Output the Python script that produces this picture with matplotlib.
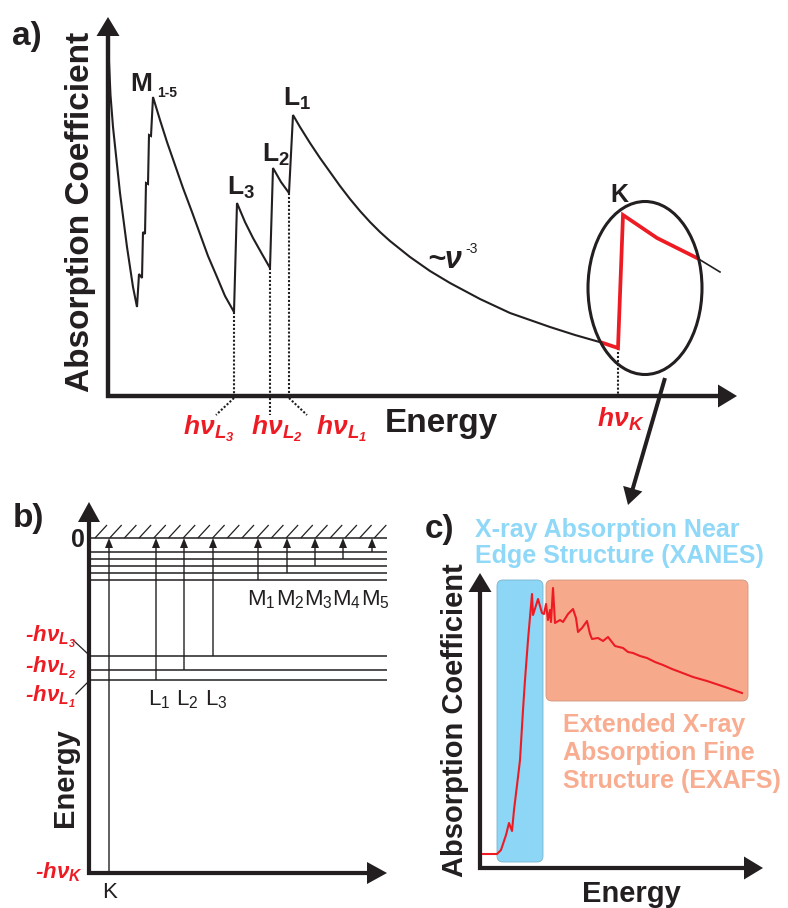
import numpy as np
import matplotlib
matplotlib.use('Agg')
import matplotlib.pyplot as plt
from matplotlib.patches import Ellipse, FancyArrow, FancyBboxPatch
from matplotlib.collections import LineCollection

plt.rcParams['font.family'] = ['Liberation Sans', 'DejaVu Sans']
plt.rcParams['mathtext.fontset'] = 'custom'
plt.rcParams['mathtext.rm'] = 'Liberation Sans'
plt.rcParams['mathtext.it'] = 'Liberation Sans:italic'
plt.rcParams['mathtext.bf'] = 'Liberation Sans:bold'
plt.rcParams['mathtext.default'] = 'regular'

W, H = 788, 908
BLACK = '#231f20'
RED = '#ed1c24'
XANES_C = '#8dd6f6'
EXAFS_C = '#f7a98c'

# ---- a) absorption coefficient vs photon energy (arbitrary units) ----
mu_e = [1, 2.5, 5, 12, 19, 25, 29,
        31, 34, 35, 37, 38, 40, 41, 43, 45,
        52, 59, 67, 75, 84, 92, 100, 109, 117, 126,
        129, 137, 145, 154, 162,
        165, 173, 181,
        185, 192, 202, 212, 222, 232, 242, 252, 262, 272, 282, 292, 302, 312, 322, 332,
        342, 357, 372, 387, 402, 422, 442, 467, 495]
mu_y = [334, 301, 269, 203, 149, 109, 89,
        122, 118, 164, 162, 213, 212, 261, 260, 299,
        276, 254, 231, 208, 184, 162, 140, 119, 100, 84,
        193, 174, 158, 142, 128,
        228, 214, 203,
        281, 269, 253, 238, 224, 210, 197, 185, 174, 164, 155, 147, 139, 132, 125, 119,
        113, 105, 97, 90, 83, 76, 69, 61, 53]
# K edge region (highlighted) and the curve beyond it
k_e = [495, 510, 515, 549, 589]
k_y = [53, 48, 181, 158, 138]
tail_e = [589, 612]
tail_y = [138, 124]
# edge onsets marked on the energy axis
edge_names = ['L_3', 'L_2', 'L_1', 'K']
edge_e = [126, 162, 181, 510]
edge_y = [84, 128, 203, 48]

# ---- b) energy level scheme ----
m_levels = [-42, -35, -28, -21, -14]   # M1..M5
l_levels = [-142, -132, -118]          # L1..L3
k_level = -335
m_slots = [169, 198, 226, 254, 283]
l_slots = [67, 95, 124]
k_slot = 20

# ---- c) measured K-edge spectrum ----
spec_e = [3, 17, 21, 26, 29, 32, 34, 38, 40, 43, 45, 48, 52, 53, 58, 62, 64, 66,
          68, 70, 71, 73, 75, 80, 83, 88, 93, 96, 98, 102, 107, 110, 112, 118,
          123, 128, 135, 143, 148, 153, 160, 167, 175, 183, 192, 200, 213, 227,
          245, 262]
spec_y = [14, 14, 18, 33, 45, 37, 58, 91, 108, 158, 188, 228, 274, 253, 269, 255, 254, 264,
          248, 258, 246, 280, 245, 248, 246, 254, 259, 250, 236, 240, 247, 234, 229, 230,
          227, 231, 222, 220, 216, 215, 212, 210, 206, 203, 199, 196, 191, 187,
          181, 175]
xanes_range = (17, 63)
exafs_range = (66, 268)


fig = plt.figure(figsize=(W / 100, H / 100), dpi=100)
fig.patch.set_facecolor('white')


def panel(ox, oy, w, h, ylo=0):
    # axes whose origin sits at pixel (ox, oy); one data unit per pixel
    ax = fig.add_axes([ox / W, (H - oy) / H, w / W, h / H])
    ax.set_xlim(0, w)
    ax.set_ylim(ylo, ylo + h)
    ax.axis('off')
    return ax


def axis_arrows(ax, xmax, ymin, ymax, lw=4.2, hw=22, hl=20):
    ax.add_patch(FancyArrow(-2, ymin, xmax + 2, 0, width=lw, head_width=hw, head_length=hl,
                            length_includes_head=True, color=BLACK, lw=0, clip_on=False))
    ax.add_patch(FancyArrow(0, ymin - 2, 0, ymax - ymin + 2, width=lw, head_width=hw, head_length=hl,
                            length_includes_head=True, color=BLACK, lw=0, clip_on=False))


bold = dict(fontweight='bold', color=BLACK)
red_lab = dict(fontweight='bold', fontstyle='italic', color=RED)

# ================= a =================
ax_a = panel(108, 396, 629, 379)
axis_arrows(ax_a, 629, 0, 379, lw=4.4, hw=23, hl=19)
ax_a.plot(mu_e, mu_y, color=BLACK, lw=1.5, clip_on=False, solid_joinstyle='miter')
ax_a.plot(tail_e, tail_y, color=BLACK, lw=1.2, clip_on=False)
ax_a.plot(k_e, k_y, color=RED, lw=2.7, clip_on=False, zorder=4, solid_joinstyle='miter')

for e, y in zip(edge_e, edge_y):
    ax_a.plot([e, e], [y, 0], color=BLACK, lw=1.5, ls=(0, (1, 0.9)), clip_on=False)
for e, dx in zip(edge_e[:3], [-18, 0, 18]):
    ax_a.plot([e, e + dx], [-2, -19], color=BLACK, lw=1.5, ls=(0, (1, 0.9)), clip_on=False)

ax_a.add_patch(Ellipse((537, 108), 114, 173, fill=False, ec=BLACK, lw=2.2, clip_on=False, zorder=5))
ax_a.add_patch(FancyArrow(557, 18, -37, -127, width=4, head_width=20, head_length=17,
                          length_includes_head=True, color=BLACK, lw=0, clip_on=False))

ax_a.text(-96, 351, 'a)', fontsize=24, ha='left', va='baseline', **bold)
ax_a.text(-19, 184, 'Absorption Coefficient', fontsize=24, rotation=90, rotation_mode='anchor',
          ha='center', va='baseline', **bold)
ax_a.text(333, -36, 'Energy', fontsize=24, ha='center', va='baseline', **bold)

ax_a.text(22, 305, 'M', fontsize=19, ha='left', va='baseline', **bold)
ax_a.text(49, 299, '1-5', fontsize=10, ha='left', va='baseline', **bold)
ax_a.text(119, 201, r'L$_3$', fontsize=19, ha='left', va='baseline', **bold)
ax_a.text(154, 234, r'L$_2$', fontsize=19, ha='left', va='baseline', **bold)
ax_a.text(175, 290, r'L$_1$', fontsize=19, ha='left', va='baseline', **bold)
ax_a.text(502, 194, 'K', fontsize=18, ha='left', va='baseline', **bold)
ax_a.text(319, 128, '~ν', fontsize=22, fontweight='bold', fontstyle='italic', color=BLACK,
          ha='left', va='baseline')
ax_a.text(357, 143, '-3', fontsize=10, ha='left', va='baseline', color=BLACK)

for x, name in zip([75, 143, 208], edge_names[:3]):
    ax_a.text(x, -39, r'$h\nu_{%s}$' % name, fontsize=19, ha='left', va='baseline', **red_lab)
ax_a.text(489, -31, r'$h\nu_{K}$', fontsize=19, ha='left', va='baseline', **red_lab)

# ================= b =================
ax_b = panel(89, 873, 298, 371, ylo=k_level)
axis_arrows(ax_b, 298, k_level, 36, lw=4.2, hw=22, hl=20)

level_lw = 1.1
ax_b.hlines([0] + m_levels + l_levels, 0, 299, color=BLACK, lw=level_lw)
ax_b.hlines(l_levels[1], -13, 0, color=BLACK, lw=0.9)
hx = np.arange(6, 290, 14.7)
ax_b.add_collection(LineCollection([[(x, 0), (x + 12, 13)] for x in hx], colors=BLACK, lw=0.9))

for x, y0 in [(k_slot, k_level)] + list(zip(l_slots, l_levels)) + list(zip(m_slots, m_levels)):
    ax_b.add_patch(FancyArrow(x, y0, 0, -y0, width=1.4, head_width=8, head_length=10,
                              length_includes_head=True, color=BLACK, lw=0, zorder=3))

for i, x in enumerate(m_slots):
    ax_b.text(x - 11, -67, r'M$_{%d}$' % (i + 1), fontsize=16, ha='left', va='baseline', color=BLACK)
for i, x in enumerate(l_slots):
    ax_b.text(x - 8, -167, r'L$_{%d}$' % (i + 1), fontsize=16, ha='left', va='baseline', color=BLACK)
ax_b.text(k_slot - 7, -360, 'K', fontsize=16, ha='left', va='baseline', color=BLACK)

ax_b.text(-76, 11, 'b)', fontsize=24, ha='left', va='baseline', **bold)
ax_b.text(-4, -9, '0', fontsize=18, ha='right', va='baseline', **bold)
ax_b.text(-16, -240, 'Energy', fontsize=21, rotation=90, rotation_mode='anchor',
          ha='center', va='baseline', **bold)

for y, name in zip([-104, -135, -164], ['L_3', 'L_2', 'L_1']):
    ax_b.text(-64, y, r'-$h\nu_{%s}$' % name, fontsize=16, ha='left', va='baseline', **red_lab)
ax_b.text(-54, -340, r'-$h\nu_{K}$', fontsize=16, ha='left', va='baseline', **red_lab)
ax_b.plot([-16, -1], [-102, -116], color=BLACK, lw=0.9, clip_on=False)
ax_b.plot([-13, -1], [-156, -144], color=BLACK, lw=0.9, clip_on=False)

# ================= c =================
ax_c = panel(480, 868, 283, 295)
axis_arrows(ax_c, 283, 0, 295, lw=4.2, hw=23, hl=19)

ax_c.add_patch(FancyBboxPatch((xanes_range[0], 6), xanes_range[1] - xanes_range[0], 282,
                              boxstyle='round,pad=0,rounding_size=6', fc=XANES_C, ec='#79b4cf', lw=0.6))
ax_c.add_patch(FancyBboxPatch((exafs_range[0], 167), exafs_range[1] - exafs_range[0], 121,
                              boxstyle='round,pad=0,rounding_size=6', fc=EXAFS_C, ec='#d09580', lw=0.6))
ax_c.plot(spec_e, spec_y, color=RED, lw=1.5, zorder=4)

ax_c.text(-55, 330, 'c)', fontsize=24, ha='left', va='baseline', **bold)
ax_c.text(-5, 331, 'X-ray Absorption Near', fontsize=18, fontweight='bold', color='#8fd8f8',
          ha='left', va='baseline')
ax_c.text(-5, 305, 'Edge Structure (XANES)', fontsize=18, fontweight='bold', color='#8fd8f8',
          ha='left', va='baseline')
for y, line in zip([136, 108, 80], ['Extended X-ray', 'Absorption Fine', 'Structure (EXAFS)']):
    ax_c.text(83, y, line, fontsize=18, fontweight='bold', color='#f8ac90', ha='left', va='baseline')
ax_c.text(-17, 148, 'Absorption Coefficient', fontsize=21, rotation=90, rotation_mode='anchor',
          ha='center', va='baseline', **bold)
ax_c.text(151, -34, 'Energy', fontsize=21, ha='center', va='baseline', **bold)

fig.savefig('out.png', dpi=100)
